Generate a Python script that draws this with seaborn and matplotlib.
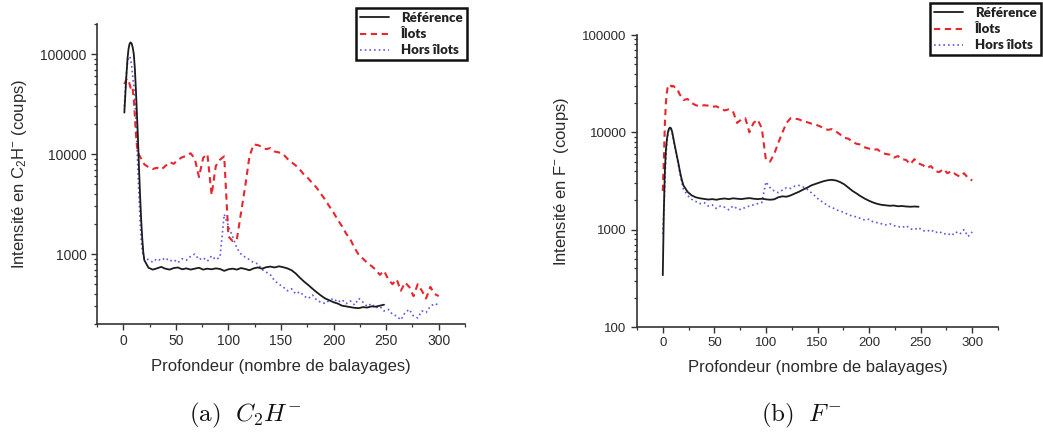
import numpy as np
import pandas as pd
import matplotlib
matplotlib.use("Agg")
import matplotlib.pyplot as plt
import seaborn as sns
from matplotlib.ticker import LogLocator, FixedLocator, FuncFormatter, MultipleLocator, NullFormatter
from matplotlib.font_manager import FontProperties

sns.set_theme(style="ticks")
plt.rcParams['font.family'] = ['Liberation Sans', 'DejaVu Sans']
plt.rcParams['mathtext.fontset'] = 'custom'
plt.rcParams['mathtext.rm'] = 'Liberation Sans'
plt.rcParams['mathtext.it'] = 'Liberation Sans:italic'

# ---------------- data ----------------
series_names = ["Référence", "Îlots", "Hors îlots"]

# Panel (a) C2H- : depth 1..20 step 1, then 24.. step 4
c2h_ref_start = [26000, 40000, 62000, 90000, 113000, 127000, 131000, 127000, 116000, 100000,
                 72000, 44000, 25000, 14000, 7000, 3800, 2200, 1450, 1050, 870]
c2h_ref_tail = [730, 700, 720, 745, 715, 700, 725, 735, 705, 720,
                700, 715, 730, 700, 715, 705, 720, 710, 680, 705,
                715, 700, 725, 710, 690, 720, 735, 715, 740, 750,
                735, 755, 740, 720, 690, 640, 580, 530, 490, 450,
                415, 385, 360, 345, 330, 320, 305, 300, 295, 290,
                288, 295, 292, 300, 298, 305, 312]
c2h_ilots_start = [50000, 53000, 56000, 57000, 55000, 50000, 46000, 48000, 44000, 35000,
                   24000, 16000, 12000, 10500, 9800, 9400, 9000, 8600, 8200, 7900]
c2h_ilots_tail = [7400, 7100, 7300, 7000, 7600, 8300, 8000, 8800, 9300, 9600,
                  10200, 9000, 5900, 9200, 10000, 3900, 7600, 8800, 9500, 1500,
                  1350, 1400, 2600, 4800, 9500, 12500, 12300, 11800, 11200, 11500,
                  10600, 10400, 10000, 9000, 8300, 7700, 7000, 6200, 5700, 5100,
                  4600, 4000, 3500, 3000, 2600, 2200, 1900, 1600, 1400, 1150,
                  980, 900, 820, 760, 700, 620, 680, 560, 500, 560,
                  430, 520, 470, 380, 500, 430, 360, 470, 400, 380]
c2h_hors_start = [30000, 45000, 65000, 82000, 92000, 95000, 90000, 75000, 60000, 48000,
                  36000, 22000, 12000, 6500, 3600, 2100, 1400, 1100, 950, 900]
c2h_hors_tail = [880, 830, 900, 860, 920, 850, 880, 820, 900, 870,
                 950, 1000, 880, 920, 850, 960, 880, 930, 2500, 1900,
                 1500, 1150, 1000, 930, 880, 820, 800, 700, 660, 620,
                 540, 500, 470, 430, 450, 400, 420, 380, 360, 390,
                 345, 330, 320, 345, 360, 330, 350, 320, 340, 310,
                 360, 330, 300, 320, 290, 300, 270, 280, 250, 240,
                 220, 260, 280, 240, 230, 270, 260, 300, 320, 310]

# Panel (b) F- : depth 0..20 step 1, then 24.. step 4
f_ref_start = [340, 1500, 4000, 6500, 8500, 10000, 10900, 11200, 11000, 10200,
               9000, 7900, 7000, 6200, 5500, 4900, 4300, 3800, 3400, 3100, 2850]
f_ref_tail = [2450, 2250, 2150, 2100, 2070, 2040, 2060, 2030, 2070, 2090,
              2060, 2100, 2080, 2060, 2090, 2110, 2080, 2060, 2080, 2050,
              2030, 2050, 2150, 2200, 2180, 2250, 2350, 2450, 2580, 2700,
              2850, 2950, 3050, 3150, 3220, 3250, 3200, 3080, 2920, 2700,
              2500, 2350, 2200, 2080, 1980, 1900, 1840, 1800, 1780, 1760,
              1770, 1740, 1750, 1730, 1720, 1730, 1720]
f_ilots_start = [2500, 5000, 12000, 20000, 26000, 30000, 31000, 30500, 30000, 29500,
                 30000, 29500, 29000, 29000, 28000, 26500, 25000, 24000, 23000, 22000, 21500]
f_ilots_tail = [22000, 20000, 19000, 18500, 19000, 18800, 18300, 18500, 17500, 16800,
                17200, 16500, 12500, 13500, 14000, 10000, 12500, 13500, 11000, 5200,
                5000, 6000, 7800, 10000, 12500, 14000, 13800, 13600, 13000, 12700,
                12300, 12000, 11600, 11000, 10600, 10800, 10200, 9500, 8800, 8600,
                8000, 7600, 7500, 7000, 6800, 6600, 6700, 6200, 6000, 5900,
                5500, 5700, 5300, 5200, 4700, 5300, 4800, 4600, 4300, 4500,
                4000, 3900, 4200, 3800, 4000, 3700, 3500, 3800, 3400, 3200]
f_hors_start = [900, 1500, 3000, 5500, 8000, 9800, 10800, 11000, 10800, 10000,
                8800, 7700, 6800, 6000, 5300, 4700, 4100, 3600, 3200, 2900, 2600]
f_hors_tail = [2250, 2050, 1950, 1850, 1900, 1750, 1800, 1650, 1750, 1700,
               1600, 1750, 1650, 1600, 1700, 1750, 1800, 1850, 1900, 3100,
               2700, 2500, 2400, 2550, 2700, 2650, 2800, 2850, 2750, 2600,
               2400, 2200, 2000, 1900, 1750, 1700, 1600, 1550, 1500, 1420,
               1380, 1350, 1300, 1250, 1280, 1200, 1180, 1150, 1120, 1150,
               1100, 1080, 1050, 1100, 1020, 1000, 1050, 980, 960, 1000,
               930, 960, 900, 920, 870, 950, 900, 1000, 850, 950]

x_ticks = [0, 50, 100, 150, 200, 250, 300]
y_ticks_a = [1000, 10000, 100000]
y_ticks_b = [100, 1000, 10000, 100000]


def depth(start_vals, tail_vals, first):
    head = np.arange(first, first + len(start_vals))
    tail = np.arange(24, 24 + 4 * len(tail_vals), 4)
    return np.concatenate([head, tail]), np.array(start_vals + tail_vals, dtype=float)


styles = {
    "Référence": dict(color="#1c1c1c", lw=1.3, dashes=None),
    "Îlots": dict(color="#e8262e", lw=1.5, dashes=(3.0, 2.2)),
    "Hors îlots": dict(color="#5a5ae0", lw=1.2, dashes=(1.0, 1.8)),
}

text_col = "#2b2b2b"

fig = plt.figure(figsize=(10.43, 4.34), dpi=100)
W, H = 1043, 434
ax1 = fig.add_axes([97 / W, 1 - 324 / H, (465 - 97) / W, 300 / H])
ax2 = fig.add_axes([637 / W, 1 - 327 / H, (998 - 637) / W, (327 - 35) / H])

panel_a = [(c2h_ref_start, c2h_ref_tail), (c2h_ilots_start, c2h_ilots_tail), (c2h_hors_start, c2h_hors_tail)]
panel_b = [(f_ref_start, f_ref_tail), (f_ilots_start, f_ilots_tail), (f_hors_start, f_hors_tail)]


def draw(ax, panel, first, ylim, yticks, ylabel, tick_fs, legend_anchor):
    order = [2, 1, 0]
    for i in order:
        name = series_names[i]
        st = styles[name]
        x, y = depth(panel[i][0], panel[i][1], first)
        df = pd.DataFrame({"x": x, "y": y})
        sns.lineplot(data=df, x="x", y="y", ax=ax, color=st["color"], lw=st["lw"],
                     estimator=None, sort=False, legend=False, zorder=3 - i)
        line = ax.lines[-1]
        if st["dashes"] is not None:
            line.set_dashes(st["dashes"])
        line.set_label(name)
    lines_by_name = {l.get_label(): l for l in ax.lines}
    handles = [lines_by_name[n] for n in series_names]

    ax.set_yscale("log")
    ax.set_ylim(*ylim)
    ax.set_xlim(-25, 325)
    ax.yaxis.set_major_locator(FixedLocator(yticks))
    ax.yaxis.set_major_formatter(FuncFormatter(lambda v, p: f"{int(round(v))}"))
    ax.yaxis.set_minor_locator(LogLocator(base=10, subs=np.arange(2, 10) * 1.0, numticks=20))
    ax.yaxis.set_minor_formatter(NullFormatter())
    ax.xaxis.set_major_locator(FixedLocator(x_ticks))
    ax.xaxis.set_minor_locator(MultipleLocator(25))
    for s in ["top", "right"]:
        ax.spines[s].set_visible(False)
    for s in ["left", "bottom"]:
        ax.spines[s].set_linewidth(1.2)
        ax.spines[s].set_color("#333333")
    ax.tick_params(axis="both", which="major", direction="out", length=4.5, width=1.0,
                   color="#333333", labelsize=tick_fs, labelcolor=text_col, pad=3)
    ax.tick_params(axis="both", which="minor", direction="out", length=2.5, width=0.9,
                   color="#333333")
    ax.set_xlabel("Profondeur (nombre de balayages)", fontsize=12, color=text_col, labelpad=7.5)
    ax.set_ylabel(ylabel, fontsize=12, color=text_col, labelpad=8)
    ax.set_facecolor("white")

    leg = ax.legend(handles=handles, labels=series_names, loc="upper left",
                    bbox_to_anchor=legend_anchor, bbox_transform=fig.transFigure,
                    prop=FontProperties(family="Lato", weight="heavy", size=9.5),
                    frameon=True, fancybox=False, framealpha=1, edgecolor="#111111",
                    borderpad=0.3, labelspacing=0.32, handlelength=2.2, handletextpad=0.9,
                    borderaxespad=0)
    leg.get_frame().set_linewidth(1.8)
    for t in leg.get_texts():
        t.set_color("#222222")


draw(ax1, panel_a, 1, (200, 200000), y_ticks_a,
     r"Intensité en C$_\mathregular{2}$H$^{-}$ (coups)", 10, (356 / W, 1 - 8 / H))
draw(ax2, panel_b, 0, (100, 100000), y_ticks_b,
     r"Intensité en F$^{-}$ (coups)", 9.5, (930 / W, 1 - 3 / H))

fig.text(245 / W, 1 - 415 / H, r"$\mathrm{(a)}\ \ C_2H^{-}$", math_fontfamily="cm",
         fontsize=18, ha="center", va="center", color="#111111")
fig.text(801 / W, 1 - 415 / H, r"$\mathrm{(b)}\ \ F^{-}$", math_fontfamily="cm",
         fontsize=18, ha="center", va="center", color="#111111")

fig.savefig("out.png", dpi=100, facecolor="white")
